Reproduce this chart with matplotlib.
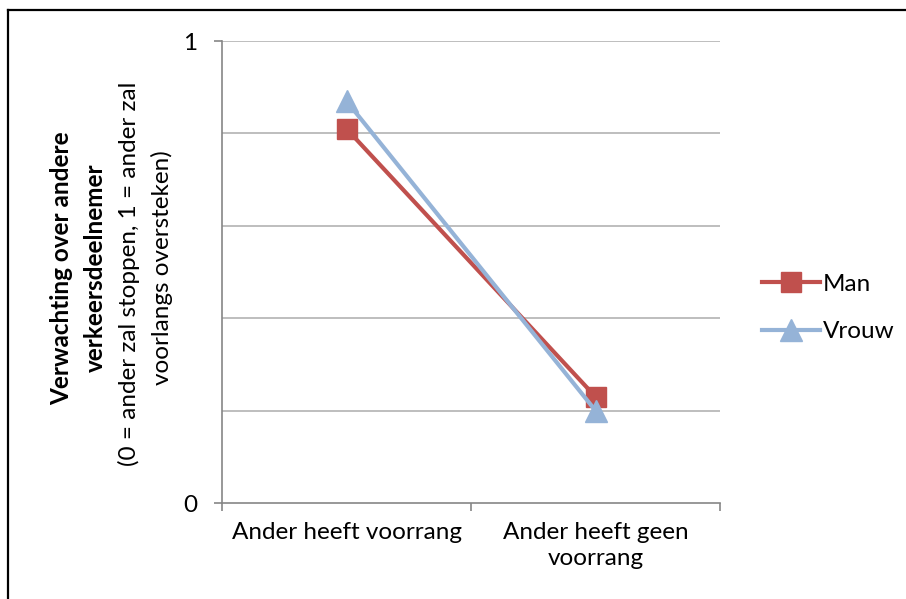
import matplotlib
matplotlib.use('Agg')
import matplotlib.pyplot as plt
from matplotlib.lines import Line2D

# Data
categories = ['Ander heeft voorrang', 'Ander heeft geen\nvoorrang']
man = [0.81, 0.23]
vrouw = [0.87, 0.20]

plt.rcParams['font.family'] = ['Lato', 'DejaVu Sans']
FS = 17.5

W, H = 906, 599
fig = plt.figure(figsize=(W / 100, H / 100), dpi=100)
ax = fig.add_axes([222 / W, 1 - 503 / H, (720 - 222) / W, (503 - 41) / H])

xpos = [0.5, 1.5]
ax.plot(xpos, man, color='#C0504D', lw=3, marker='s', ms=14, label='Man', zorder=3)
ax.plot(xpos, vrouw, color='#95B3D7', lw=3, marker='^', ms=16, label='Vrouw', zorder=4)

ax.set_xlim(0, 2)
ax.set_ylim(0, 1)

# gridlines every 0.2
for g in [0.2, 0.4, 0.6, 0.8, 1.0]:
    ax.axhline(g, color='#B3B3B3', lw=1.2, zorder=1)

ax.set_yticks([0, 1])
ax.set_yticklabels(['0', '1'], fontsize=FS)
ax.set_xticks([0, 1, 2])
ax.set_xticklabels([])
ax.set_xticks(xpos, minor=True)
ax.set_xticklabels(categories, minor=True, fontsize=FS, linespacing=1.25)
ax.tick_params(axis='x', which='minor', length=0, pad=14)
ax.tick_params(axis='both', which='major', length=6, width=1.2, color='#868686', direction='out')
ax.tick_params(axis='y', pad=12)

for s in ['top', 'right']:
    ax.spines[s].set_visible(False)
for s in ['left', 'bottom']:
    ax.spines[s].set_color('#868686')
    ax.spines[s].set_linewidth(1.2)

# y-axis title, four lines
ymid = 1 - 268 / H
fig.text(62 / W, ymid, 'Verwachting over andere', rotation=90, fontsize=FS,
         fontweight='bold', ha='center', va='center')
fig.text(95 / W, ymid, 'verkeersdeelnemer', rotation=90, fontsize=FS,
         fontweight='bold', ha='center', va='center')
fig.text(129 / W, 1 - 274 / H, '(0 = ander zal stoppen, 1 = ander zal', rotation=90,
         fontsize=FS, ha='center', va='center')
fig.text(162 / W, ymid, 'voorlangs oversteken)', rotation=90, fontsize=FS,
         ha='center', va='center')

leg = fig.legend(loc='center left', bbox_to_anchor=(740 / W, 1 - 308 / H), frameon=False,
                 fontsize=FS, handlelength=2.4, handletextpad=0.1, labelspacing=1.1)

# chart border
fig.add_artist(Line2D([8 / W, 8 / W], [0, 1 - 10 / H], color='black', lw=1.6))
fig.add_artist(Line2D([8 / W, 1], [1 - 10 / H, 1 - 10 / H], color='black', lw=1.6))

fig.savefig('out.png', dpi=100)
